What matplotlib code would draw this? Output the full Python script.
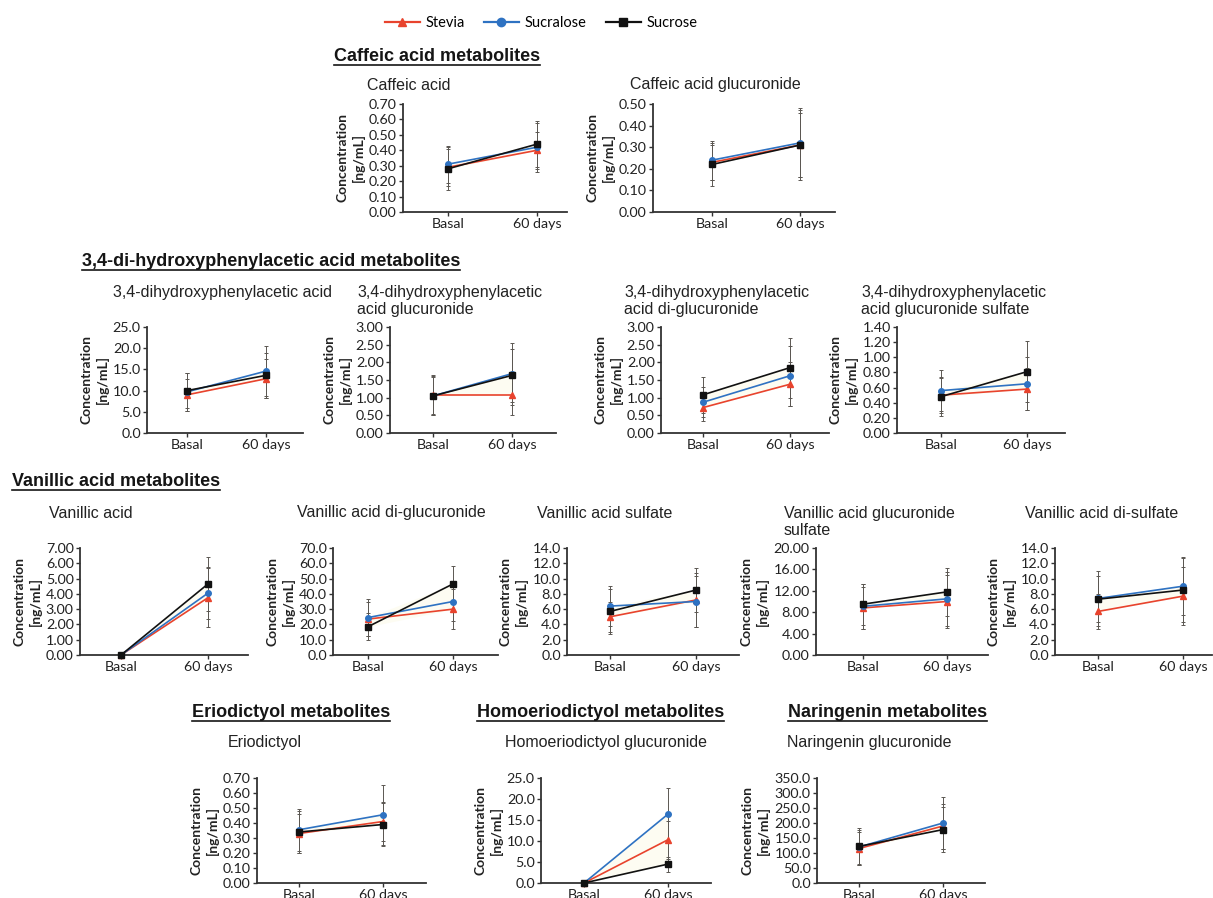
import numpy as np
import matplotlib
matplotlib.use("Agg")
import matplotlib.pyplot as plt
from matplotlib.lines import Line2D
from matplotlib.ticker import FormatStrFormatter

W, H = 1213, 898

timepoints = ["Basal", "60 days"]
groups = ["Stevia", "Sucralose", "Sucrose"]

# rows: Stevia, Sucralose, Sucrose / cols: Basal, 60 days
caffeic_mean = [[0.29, 0.40], [0.31, 0.42], [0.28, 0.44]]
caffeic_sd = [[0.12, 0.12], [0.12, 0.16], [0.14, 0.15]]
caffeic_gluc_mean = [[0.23, 0.31], [0.24, 0.32], [0.22, 0.31]]
caffeic_gluc_sd = [[0.08, 0.15], [0.09, 0.16], [0.10, 0.16]]

dopac_mean = [[9.0, 12.8], [9.7, 14.6], [10.0, 13.6]]
dopac_sd = [[3.8, 4.6], [4.5, 5.9], [4.2, 5.3]]
dopac_gluc_mean = [[1.08, 1.08], [1.05, 1.68], [1.05, 1.63]]
dopac_gluc_sd = [[0.55, 0.56], [0.55, 0.88], [0.53, 0.75]]
dopac_digluc_mean = [[0.72, 1.38], [0.87, 1.62], [1.08, 1.85]]
dopac_digluc_sd = [[0.37, 0.62], [0.42, 0.85], [0.50, 0.85]]
dopac_glucsulf_mean = [[0.50, 0.58], [0.56, 0.65], [0.48, 0.81]]
dopac_glucsulf_sd = [[0.24, 0.28], [0.27, 0.35], [0.25, 0.40]]

vanillic_mean = [[0.0, 3.75], [0.0, 4.05], [0.0, 4.65]]
vanillic_sd = [[0.0, 1.95], [0.0, 1.70], [0.0, 1.75]]
vanillic_digluc_mean = [[23.5, 30.0], [24.5, 35.0], [18.5, 46.5]]
vanillic_digluc_sd = [[11.0, 13.0], [12.0, 13.0], [9.0, 11.5]]
vanillic_sulf_mean = [[5.0, 7.2], [6.4, 7.0], [5.7, 8.5]]
vanillic_sulf_sd = [[2.0, 3.5], [2.6, 3.4], [3.0, 2.9]]
vanillic_glucsulf_mean = [[8.8, 10.0], [9.1, 10.5], [9.5, 11.8]]
vanillic_glucsulf_sd = [[4.0, 5.0], [4.2, 5.0], [3.8, 4.5]]
vanillic_disulf_mean = [[5.7, 7.7], [7.4, 9.0], [7.3, 8.5]]
vanillic_disulf_sd = [[2.3, 3.8], [3.6, 3.8], [3.0, 4.2]]

erio_mean = [[0.33, 0.41], [0.355, 0.455], [0.34, 0.39]]
erio_sd = [[0.13, 0.13], [0.14, 0.20], [0.14, 0.145]]
homoerio_gluc_mean = [[0.0, 10.3], [0.0, 16.4], [0.0, 4.5]]
homoerio_gluc_sd = [[0.0, 4.5], [0.0, 6.3], [0.0, 1.8]]
naringenin_gluc_mean = [[115, 190], [120, 200], [122, 178]]
naringenin_gluc_sd = [[55, 75], [58, 87], [62, 75]]

colors = ["#e8432d", "#2e72c2", "#111111"]
markers = ["^", "o", "s"]
msizes = [4, 4, 4.6]

plt.rcParams["font.family"] = ["Lato", "DejaVu Sans"]


def fx(px):
    return px / W


def fy(py):
    return 1 - py / H


def draw_panel(fig, title, title_pos, mean, sd, ymax, ystep, decimals, box):
    left, basal, days, right, top, bottom = box
    ax = fig.add_axes([fx(left), fy(bottom), (right - left) / W, (bottom - top) / H])
    unit = days - basal
    ax.set_xlim((left - basal) / unit, 1 + (right - days) / unit)
    ax.set_ylim(0, ymax)
    x = np.arange(len(timepoints))
    mean = np.asarray(mean, dtype=float)
    sd = np.asarray(sd, dtype=float)
    ax.fill_between(x, mean.min(0), mean.max(0), color="#fdfcf2", lw=0, zorder=1)
    for i, g in enumerate(groups):
        ax.errorbar(x, mean[i], yerr=sd[i], fmt="none", ecolor="#5b5752",
                    elinewidth=0.7, capsize=1.6, capthick=0.7, zorder=2)
        ax.plot(x, mean[i], color=colors[i], marker=markers[i], ms=msizes[i],
                lw=1.2, zorder=3 + i, clip_on=False)
    ax.set_yticks(np.arange(0, ymax + ystep / 2, ystep))
    ax.yaxis.set_major_formatter(FormatStrFormatter("%%.%df" % decimals))
    ax.set_xticks(x, timepoints)
    ax.tick_params(labelsize=10.3, length=3, width=1, colors="#333333", labelcolor="#222222", pad=1.5)
    ax.set_ylabel("Concentration\n[ng/mL]", fontweight="bold", fontsize=10,
                  labelpad=3, linespacing=1.3, color="#222222")
    for side in ["top", "right"]:
        ax.spines[side].set_visible(False)
    for side in ["left", "bottom"]:
        ax.spines[side].set_linewidth(1.3)
        ax.spines[side].set_color("#333333")
    fig.text(fx(title_pos[0]), fy(title_pos[1]), title, fontsize=11.5,
             family="Liberation Sans", color="#222222", va="center", ha="left",
             linespacing=1.15)
    return ax


fig = plt.figure(figsize=(W / 100, H / 100), dpi=100)

row1 = (104, 212)
row2 = (327, 433)
row3 = (548, 655)
row4 = (778, 883)

panels = [
    ("Caffeic acid", (367, 85), caffeic_mean, caffeic_sd, 0.70, 0.10, 2, (403, 448, 537, 567) + row1),
    ("Caffeic acid glucuronide", (630, 85), caffeic_gluc_mean, caffeic_gluc_sd, 0.50, 0.10, 2, (653, 712, 800, 835) + row1),
    ("3,4-dihydroxyphenylacetic acid", (113, 292), dopac_mean, dopac_sd, 25.0, 5.0, 1, (147, 187, 266, 303) + row2),
    ("3,4-dihydroxyphenylacetic\nacid glucuronide", (357, 301), dopac_gluc_mean, dopac_gluc_sd, 3.0, 0.5, 2, (390, 433, 512, 556) + row2),
    ("3,4-dihydroxyphenylacetic\nacid di-glucuronide", (624, 301), dopac_digluc_mean, dopac_digluc_sd, 3.0, 0.5, 2, (661, 703, 790, 829) + row2),
    ("3,4-dihydroxyphenylacetic\nacid glucuronide sulfate", (861, 301), dopac_glucsulf_mean, dopac_glucsulf_sd, 1.40, 0.20, 2, (897, 941, 1027, 1065) + row2),
    ("Vanillic acid", (49, 513), vanillic_mean, vanillic_sd, 7.0, 1.0, 2, (80, 121, 208, 248) + row3),
    ("Vanillic acid di-glucuronide", (297, 513), vanillic_digluc_mean, vanillic_digluc_sd, 70.0, 10.0, 1, (333, 368, 453, 498) + row3),
    ("Vanillic acid sulfate", (537, 513), vanillic_sulf_mean, vanillic_sulf_sd, 14.0, 2.0, 1, (567, 610, 696, 739) + row3),
    ("Vanillic acid glucuronide\nsulfate", (784, 522), vanillic_glucsulf_mean, vanillic_glucsulf_sd, 20.0, 4.0, 2, (816, 863, 947, 988) + row3),
    ("Vanillic acid di-sulfate", (1025, 513), vanillic_disulf_mean, vanillic_disulf_sd, 14.0, 2.0, 1, (1055, 1098, 1183, 1212) + row3),
    ("Eriodictyol", (228, 742), erio_mean, erio_sd, 0.70, 0.10, 2, (257, 299, 383, 426) + row4),
    ("Homoeriodictyol glucuronide", (505, 742), homoerio_gluc_mean, homoerio_gluc_sd, 25.0, 5.0, 1, (541, 584, 668, 711) + row4),
    ("Naringenin glucuronide", (787, 742), naringenin_gluc_mean, naringenin_gluc_sd, 350.0, 50.0, 1, (817, 859, 943, 985) + row4),
]

for p in panels:
    draw_panel(fig, *p)

headers = [
    ("Caffeic acid metabolites", 334, 61),
    ("3,4-di-hydroxyphenylacetic acid metabolites", 82, 266),
    ("Vanillic acid metabolites", 12, 486),
    ("Eriodictyol metabolites", 192, 717),
    ("Homoeriodictyol metabolites", 477, 717),
    ("Naringenin metabolites", 788, 717),
]

header_texts = []
for text, hx, hy in headers:
    t = fig.text(fx(hx), fy(hy), text, fontsize=13, fontweight="bold",
                 family="Liberation Sans", color="#151515", va="baseline", ha="left")
    header_texts.append((t, hy))

fig.canvas.draw()
renderer = fig.canvas.get_renderer()
for t, hy in header_texts:
    bb = t.get_window_extent(renderer)
    fig.add_artist(Line2D([bb.x0 / W, bb.x1 / W], [fy(hy + 3.5)] * 2,
                          transform=fig.transFigure, color="#151515", lw=1.2))

handles = [Line2D([], [], color=c, marker=m, ms=6, lw=1.6) for c, m in zip(colors, markers)]
fig.legend(handles, groups, loc="center", bbox_to_anchor=(fx(541), fy(23)), ncol=3,
           frameon=False, fontsize=10.5, handlelength=2.4, handletextpad=0.4,
           columnspacing=1.3)

fig.savefig("out.png", dpi=100)
